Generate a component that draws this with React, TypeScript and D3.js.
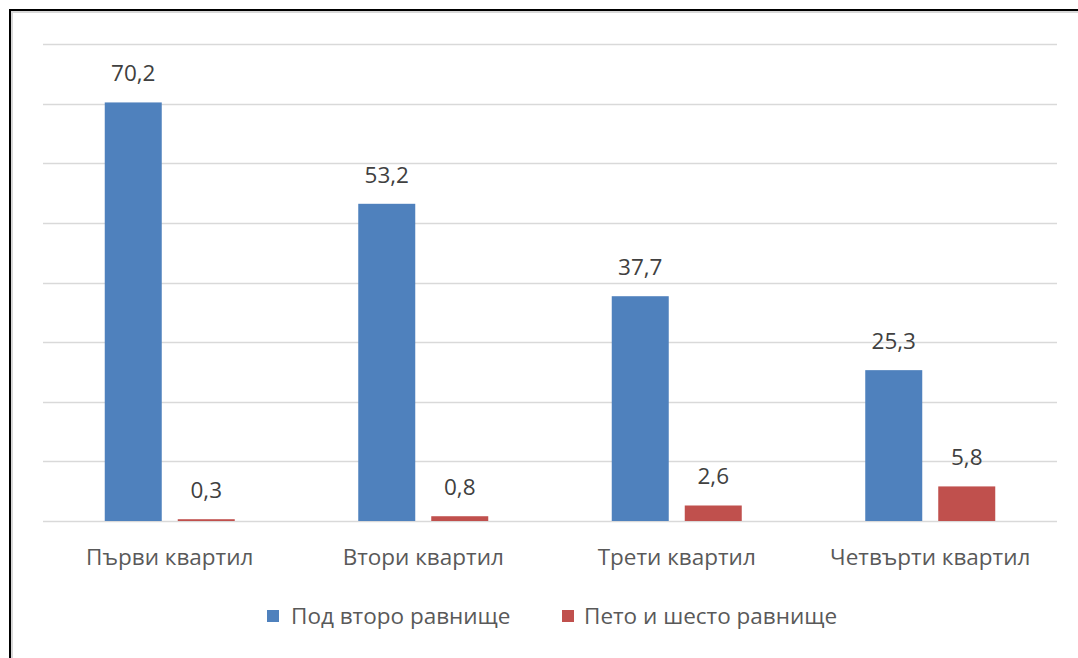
import React from "react";
import * as d3 from "d3";

const categories = ["Първи квартил", "Втори квартил", "Трети квартил", "Четвърти квартил"];
const seriesNames = ["Под второ равнище", "Пето и шесто равнище"];
const seriesBlue = [70.2, 53.2, 37.7, 25.3];
const seriesRed = [0.3, 0.8, 2.6, 5.8];
const yTicks = [0, 10, 20, 30, 40, 50, 60, 70, 80];
const colors = ["#4F81BD", "#C0504D"];

const W = 1078;
const H = 658;
const left = 43;
const right = 1057;
const top = 44;
const bottom = 521;
const font = "'Open Sans', 'Noto Sans', sans-serif";
const fs = 22.5;

export default function App() {
  const x = d3.scaleBand<string>().domain(categories).range([left, right]).paddingInner(0).paddingOuter(0);
  const y = d3.scaleLinear().domain([0, 80]).range([bottom, top]);
  const barW = 57;
  const gap = 16;
  const fmt = (v: number) => v.toFixed(1).replace(".", ",");
  const series = [seriesBlue, seriesRed];

  return (
    <svg width={W} height={H} style={{ position: "absolute", left: 0, top: 0, background: "#fff" }}>
      <rect x={0} y={0} width={W} height={H} fill="#fff" />
      <rect x={10} y={10} width={W + 20} height={H + 20} fill="none" stroke="#000" strokeWidth={2} />
      <rect x={12} y={12} width={W + 20} height={H + 20} fill="none" stroke="#d8d8d8" strokeWidth={2} />
      {yTicks.map((t) => (
        <line key={t} x1={left} x2={right} y1={Math.round(y(t)) + 0.5} y2={Math.round(y(t)) + 0.5} stroke="#d9d9d9" strokeWidth={1.3} />
      ))}
      {categories.map((c, i) => {
        const cx = (x(c) as number) + x.bandwidth() / 2;
        return (
          <g key={c}>
            {series.map((s, k) => {
              const bx = k === 0 ? cx - gap / 2 - barW : cx + gap / 2;
              const v = s[i];
              return (
                <g key={k}>
                  <rect x={bx} y={y(v)} width={barW} height={bottom - y(v)} fill={colors[k]} />
                  <text x={bx + barW / 2} y={y(v) - 21} textAnchor="middle" fontFamily={font} fontSize={fs} fill="#404040">
                    {fmt(v)}
                  </text>
                </g>
              );
            })}
            <text x={cx} y={565} textAnchor="middle" fontFamily={font} fontSize={fs} fill="#595959">
              {c}
            </text>
          </g>
        );
      })}
      <g>
        <rect x={267} y={610} width={12} height={12} fill={colors[0]} />
        <text x={291} y={624} fontFamily={font} fontSize={fs} fill="#595959">{seriesNames[0]}</text>
        <rect x={562} y={610} width={12} height={12} fill={colors[1]} />
        <text x={584} y={624} fontFamily={font} fontSize={fs} fill="#595959">{seriesNames[1]}</text>
      </g>
    </svg>
  );
}
